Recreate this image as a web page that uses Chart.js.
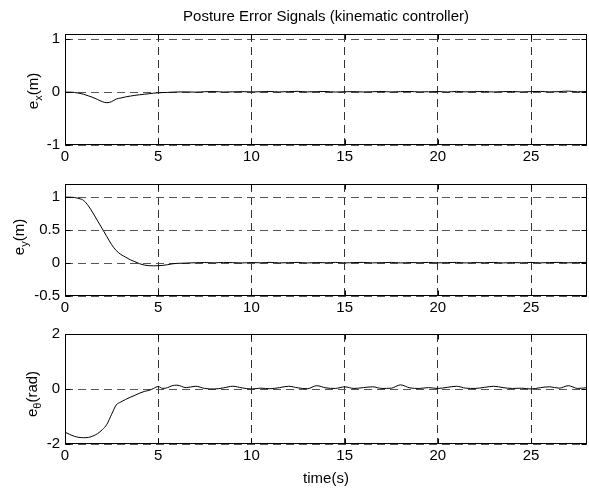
<!DOCTYPE html>
<html>
<head>
<meta charset="utf-8">
<title>Posture Error Signals</title>
<script src="https://cdn.jsdelivr.net/npm/chart.js@4.4.1/dist/chart.umd.min.js"></script>
<style>
    html, body { margin: 0; padding: 0; background: #fff; }
    #fig { position: relative; width: 589px; height: 489px; overflow: hidden; background: #fff; }
    #fig canvas { position: absolute; left: 0; }
</style>
</head>
<body>
<div id="fig">
    <canvas id="plotEx" width="589" height="170" style="top:0px"></canvas>
    <canvas id="plotEy" width="589" height="150" style="top:170px"></canvas>
    <canvas id="plotEth" width="589" height="169" style="top:320px"></canvas>
</div>
<script>
// Posture error signals (kinematic controller): e_x, e_y and e_theta over 28 s

const TITLE = 'Posture Error Signals (kinematic controller)';
const X_LABEL = 'time(s)';
const X_TICKS = [0, 5, 10, 15, 20, 25];

const EX_TICKS = [-1, 0, 1];
const EY_TICKS = [-0.5, 0, 0.5, 1];
const ETH_TICKS = [-2, 0, 2];

// sample times: 0.25 s during the transient, 0.5 s afterwards
const T = [
    0, 0.25, 0.5, 0.75, 1, 1.25, 1.5, 1.75, 2, 2.25, 2.5, 2.75, 3,
    3.25, 3.5, 3.75, 4, 4.25, 4.5, 4.75, 5, 5.25, 5.5, 5.75, 6,
    6.5, 7, 7.5, 8, 8.5, 9, 9.5, 10, 10.5, 11, 11.5,
    12, 12.5, 13, 13.5, 14, 14.5, 15, 15.5, 16, 16.5, 17,
    17.5, 18, 18.5, 19, 19.5, 20, 20.5, 21, 21.5, 22, 22.5,
    23, 23.5, 24, 24.5, 25, 25.5, 26, 26.5, 27, 27.5, 28
];

const EX = [
    0, 0, -0.005, -0.02, -0.04, -0.07, -0.10, -0.14, -0.18, -0.20, -0.18, -0.13, -0.11,
    -0.09, -0.075, -0.06, -0.05, -0.04, -0.03, -0.02, -0.012, -0.008, -0.005, 0, 0.003,
    0.005, 0, 0.008, 0.012, 0.002, 0.006, 0.01, 0.004, 0.008, 0.012, 0.004,
    0.01, 0.015, 0.005, 0.01, 0.012, 0.002, 0.008, 0.01, 0.003, 0.008, 0.012,
    0.004, 0.01, 0.013, 0.005, 0.008, 0.012, 0.003, 0.014, 0.006, 0.01, 0.012,
    0.003, 0.01, 0.012, 0.005, 0.01, 0.014, 0.005, 0.01, 0.02, 0.006, 0.012
];

const EY = [
    1.0, 1.0, 0.995, 0.98, 0.95, 0.87, 0.76, 0.64, 0.52, 0.40, 0.28, 0.19, 0.13,
    0.09, 0.05, 0.02, -0.01, -0.03, -0.04, -0.042, -0.04, -0.035, -0.025, -0.012, -0.005,
    0, 0.005, 0.008, 0.003, 0.01, 0.006, 0.002, 0.008, 0.004, 0.01, 0.003,
    0.006, 0.01, 0.002, 0.008, 0.004, 0.01, 0.002, 0.008, 0.01, 0.003, 0.006,
    0.01, 0.002, 0.008, 0.005, 0.01, 0.003, 0.007, 0.01, 0.002, 0.008, 0.005,
    0.01, 0.002, 0.008, 0.004, 0.01, 0.003, 0.008, 0.01, 0.004, 0.008, 0.01
];

const ETH = [
    -1.57, -1.65, -1.72, -1.76, -1.77, -1.76, -1.71, -1.62, -1.48, -1.28, -0.92, -0.58, -0.47,
    -0.38, -0.30, -0.23, -0.15, -0.09, -0.05, 0.02, 0.09, 0.02, 0.05, 0.12, 0.14,
    0.05, 0.10, 0.02, 0.0, 0.04, 0.10, 0.04, 0.0, 0.03, 0.01, 0.05,
    0.10, 0.04, 0.01, 0.12, 0.04, 0.02, 0.08, 0.02, 0.05, 0.08, 0.02,
    0.03, 0.15, 0.04, 0.02, 0.05, 0.02, 0.06, 0.10, 0.03, 0.02, 0.06,
    0.10, 0.05, 0.02, 0.03, 0.0, 0.05, 0.08, 0.03, 0.12, 0.02, 0.05
];

const FONT = '"Liberation Sans", Arial, Helvetica, sans-serif';

// box round the axes plus small inward tick marks, like a matlab plot
const framePlugin = {
    id: 'frame',
    afterDraw(chart) {
        const { ctx, chartArea: a, scales } = chart;
        const l = Math.round(a.left) + 0.5, r = Math.round(a.right) - 0.5;
        const t = Math.round(a.top) + 0.5, b = Math.round(a.bottom) - 0.5;
        ctx.save();
        ctx.strokeStyle = '#000';
        ctx.lineWidth = 1;
        ctx.beginPath();
        scales.x.ticks.forEach(tk => {
            const px = Math.round(scales.x.getPixelForValue(tk.value)) + 0.5;
            ctx.moveTo(px, b); ctx.lineTo(px, b - 5);
            ctx.moveTo(px, t); ctx.lineTo(px, t + 5);
        });
        scales.y.ticks.forEach(tk => {
            const py = Math.round(scales.y.getPixelForValue(tk.value)) + 0.5;
            ctx.moveTo(l, py); ctx.lineTo(l + 5, py);
            ctx.moveTo(r, py); ctx.lineTo(r - 5, py);
        });
        ctx.stroke();
        ctx.strokeRect(l, t, r - l, b - t);
        ctx.restore();
    }
};

// rotated y label with a subscript (e_x, e_y, e_theta)
const yLabelPlugin = {
    id: 'ylab',
    afterDraw(chart, args, opts) {
        if (!opts || !opts.base) return;
        const ctx = chart.ctx;
        const big = '15px ' + FONT, small = '11px ' + FONT;
        ctx.save();
        ctx.font = big;
        const w0 = ctx.measureText(opts.base).width;
        const w2 = ctx.measureText(opts.unit).width;
        ctx.font = small;
        const w1 = ctx.measureText(opts.sub).width;
        const total = w0 + w1 + w2;
        ctx.translate(opts.x, opts.cy);
        ctx.rotate(-Math.PI / 2);
        ctx.fillStyle = '#000';
        ctx.textAlign = 'left';
        ctx.textBaseline = 'alphabetic';
        let p = -total / 2;
        ctx.font = big; ctx.fillText(opts.base, p, 0); p += w0;
        ctx.font = small; ctx.fillText(opts.sub, p, 4); p += w1;
        ctx.font = big; ctx.fillText(opts.unit, p, 0);
        ctx.restore();
    }
};

function makePlot(id, ys, yTicks, yMin, yMax, cfg) {
    const points = T.map((t, i) => ({ x: t, y: ys[i] }));
    return new Chart(document.getElementById(id), {
        type: 'line',
        data: {
            datasets: [{
                data: points,
                borderColor: '#000',
                borderWidth: 1,
                pointRadius: 0,
                fill: false,
                cubicInterpolationMode: 'monotone'
            }]
        },
        options: {
            responsive: false,
            animation: false,
            devicePixelRatio: 1,
            layout: { padding: { top: cfg.padTop, right: 2, left: 0, bottom: 0 } },
            plugins: {
                legend: { display: false },
                tooltip: { enabled: false },
                title: cfg.title ? {
                    display: true,
                    text: cfg.title,
                    fullSize: false,
                    color: '#000',
                    font: { family: FONT, size: 15, weight: 'normal' },
                    padding: { top: 8, bottom: 8 }
                } : { display: false },
                ylab: cfg.ylab
            },
            scales: {
                x: {
                    type: 'linear',
                    min: 0,
                    max: 28,
                    afterBuildTicks: s => { s.ticks = X_TICKS.map(v => ({ value: v })); },
                    afterFit: s => { s.height = cfg.xHeight; },
                    ticks: {
                        color: '#000',
                        font: { family: FONT, size: 15 },
                        padding: 3,
                        maxRotation: 0,
                        autoSkip: false,
                        callback: v => String(v)
                    },
                    grid: { color: '#333', drawTicks: false },
                    border: { display: false, dash: [8, 5] },
                    title: cfg.xTitle ? {
                        display: true,
                        text: cfg.xTitle,
                        color: '#000',
                        font: { family: FONT, size: 15 },
                        padding: { top: 0, bottom: 1 }
                    } : { display: false }
                },
                y: {
                    type: 'linear',
                    min: yMin,
                    max: yMax,
                    afterBuildTicks: s => { s.ticks = yTicks.map(v => ({ value: v })); },
                    afterFit: s => { s.width = 65; },
                    ticks: {
                        color: '#000',
                        font: { family: FONT, size: 15 },
                        padding: 5,
                        autoSkip: false,
                        callback: v => String(v)
                    },
                    grid: { color: '#555', drawTicks: false },
                    border: { display: false, dash: [8, 5] }
                }
            }
        },
        plugins: [framePlugin, yLabelPlugin]
    });
}

makePlot('plotEx', EX, EX_TICKS, -1, 1.1, {
    padTop: 0, xHeight: 25, title: TITLE,
    ylab: { base: 'e', sub: 'x', unit: '(m)', x: 38, cy: 91 }
});
makePlot('plotEy', EY, EY_TICKS, -0.5, 1.2, {
    padTop: 14, xHeight: 24,
    ylab: { base: 'e', sub: 'y', unit: '(m)', x: 24, cy: 67 }
});
makePlot('plotEth', ETH, ETH_TICKS, -2, 2, {
    padTop: 13, xHeight: 45, xTitle: X_LABEL,
    ylab: { base: 'e', sub: 'θ', unit: '(rad)', x: 37, cy: 74 }
});
</script>
</body>
</html>
